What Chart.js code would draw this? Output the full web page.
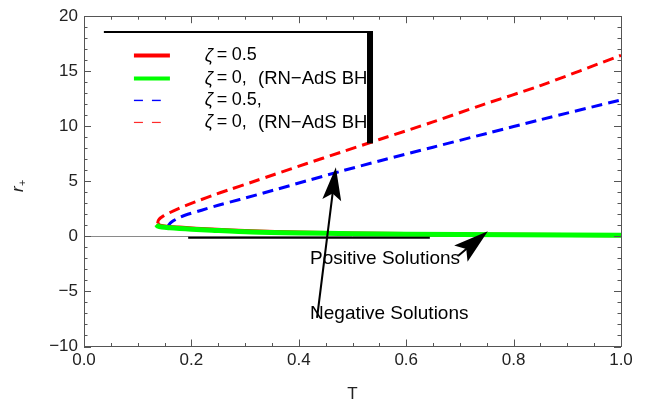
<!DOCTYPE html>
<html>
<head>
<meta charset="utf-8">
<script src="https://cdn.jsdelivr.net/npm/chart.js@4.4.1/dist/chart.umd.min.js"></script>
<style>
  html, body { margin: 0; padding: 0; background: #fff; }
</style>
</head>
<body>
<canvas id="chart" width="646" height="407"></canvas>
<script>
// ---- data ----
// zeta = 0 (RN-AdS), large branch, red dashed
const T_redDash = [0.137, 0.139, 0.148, 0.176, 0.207, 0.238, 0.269, 0.312, 0.353, 0.415, 0.477, 0.55, 0.65, 0.742, 0.85, 1.0];
const r_redDash = [1.17, 1.5, 1.86, 2.53, 3.13, 3.7, 4.22, 4.92, 5.6, 6.62, 7.62, 8.8, 10.4, 11.95, 13.7, 16.45];
// zeta = 0.5, large branch, blue dashed
const T_blueDash = [0.156, 0.158, 0.163, 0.175, 0.188, 0.219, 0.25, 0.29, 0.353, 0.415, 0.477, 0.55, 0.65, 0.75, 0.85, 1.0];
const r_blueDash = [0.86, 1.05, 1.31, 1.65, 1.92, 2.38, 2.83, 3.35, 4.2, 5.05, 5.9, 6.85, 8.1, 9.35, 10.6, 12.4];
// zeta = 0.5, small branch, red solid
const T_redSolid = [0.137, 0.14, 0.15, 0.178, 0.238, 0.312, 0.4, 0.5, 0.6, 0.8, 1.0];
const r_redSolid = [1.17, 1.0, 0.9, 0.8, 0.62, 0.46, 0.35, 0.27, 0.22, 0.15, 0.11];
// zeta = 0, small branch, green solid
const T_green = [0.135, 0.137, 0.145, 0.16, 0.178, 0.2, 0.238, 0.312, 0.4, 0.5, 0.6, 0.8, 1.0];
const r_green = [1.08, 0.95, 0.85, 0.78, 0.72, 0.66, 0.56, 0.4, 0.31, 0.25, 0.2, 0.14, 0.1];

const xTicks = [0, 0.2, 0.4, 0.6, 0.8, 1.0];
const yTicks = [-10, -5, 0, 5, 10, 15, 20];

const legendValue = ['0.5', '0,', '0.5,', '0,'];
const legendTail = ['', '(RN\u2212AdS BH)', '', '(RN\u2212AdS BH)'];
const note1 = 'Positive Solutions';
const note2 = 'Negative Solutions';

const FONT = '"Liberation Sans", Arial, sans-serif';

function pts(xs, ys) {
  return xs.map((v, i) => ({ x: v, y: ys[i] }));
}

function arrow(ctx, x1, y1, x2, y2, len, half) {
  const a = Math.atan2(y2 - y1, x2 - x1);
  const c = Math.cos(a), s = Math.sin(a);
  const bx = x2 - len * c, by = y2 - len * s;
  ctx.beginPath();
  ctx.moveTo(x1, y1);
  ctx.lineTo(x2 - 0.7 * len * c, y2 - 0.7 * len * s);
  ctx.stroke();
  ctx.beginPath();
  ctx.moveTo(x2, y2);
  ctx.lineTo(bx - half * s, by + half * c);
  ctx.lineTo(x2 - 0.8 * len * c, y2 - 0.8 * len * s);
  ctx.lineTo(bx + half * s, by - half * c);
  ctx.closePath();
  ctx.fill();
}

const framePlugin = {
  id: 'frame',
  beforeDatasetsDraw(chart) {
    const { ctx, chartArea: a, scales: { y } } = chart;
    ctx.save();
    ctx.strokeStyle = '#8a8a8a';
    ctx.lineWidth = 1;
    const y0 = Math.round(y.getPixelForValue(0)) + 0.5;
    ctx.beginPath();
    ctx.moveTo(a.left, y0);
    ctx.lineTo(a.right, y0);
    ctx.stroke();
    ctx.restore();
  },
  afterDatasetsDraw(chart) {
    const { ctx, chartArea: a, scales: { x, y } } = chart;
    const X = v => x.getPixelForValue(v);
    const Y = v => y.getPixelForValue(v);
    ctx.save();

    // frame + ticks (inside, on all four sides)
    ctx.strokeStyle = '#555';
    ctx.lineWidth = 1;
    ctx.strokeRect(Math.round(a.left) + 0.5, Math.round(a.top) + 0.5,
      Math.round(a.right - a.left), Math.round(a.bottom - a.top));
    ctx.beginPath();
    for (let i = 0; i <= 20; i++) {
      const px = Math.round(X(i * 0.05)) + 0.5;
      const L = i % 4 === 0 ? 7 : 3.5;
      ctx.moveTo(px, a.bottom); ctx.lineTo(px, a.bottom - L);
      ctx.moveTo(px, a.top); ctx.lineTo(px, a.top + L);
    }
    for (let v = -10; v <= 20; v++) {
      const py = Math.round(Y(v)) + 0.5;
      const L = v % 5 === 0 ? 7 : 3.5;
      ctx.moveTo(a.left, py); ctx.lineTo(a.left + L, py);
      ctx.moveTo(a.right, py); ctx.lineTo(a.right - L, py);
    }
    ctx.stroke();

    // black horizontal line under the lower branch
    ctx.strokeStyle = '#000';
    ctx.fillStyle = '#000';
    ctx.lineWidth = 2;
    ctx.beginPath();
    ctx.moveTo(X(0.194), Y(-0.12));
    ctx.lineTo(X(0.644), Y(-0.12));
    ctx.stroke();

    // legend box line
    ctx.beginPath();
    ctx.moveTo(X(0.037), Y(18.56));
    ctx.lineTo(X(0.538), Y(18.56));
    ctx.stroke();

    // legend samples
    const rows = [16.43, 14.34, 12.35, 10.35];
    const sx0 = X(0.093), tx = X(0.225), tx2 = X(0.324);
    const barX = X(0.5326) - 3;
    const sample = [
      { c: '#ff0000', w: 4, d: [], end: X(0.160) },
      { c: '#00ff00', w: 4, d: [], end: X(0.160) },
      { c: '#0000ff', w: 1.4, d: [9, 9], end: X(0.143) },
      { c: '#ff2a2a', w: 1.2, d: [9, 9], end: X(0.143) }
    ];
    sample.forEach((s, i) => {
      ctx.strokeStyle = s.c;
      ctx.lineWidth = s.w;
      ctx.setLineDash(s.d);
      ctx.beginPath();
      ctx.moveTo(sx0, Y(rows[i]));
      ctx.lineTo(s.end, Y(rows[i]));
      ctx.stroke();
    });
    ctx.setLineDash([]);
    ctx.fillStyle = '#000';
    ctx.textBaseline = 'middle';
    ctx.textAlign = 'left';
    legendValue.forEach((t, i) => {
      const yy = Y(rows[i]);
      ctx.font = 'italic 18px ' + FONT;
      ctx.fillText('\u03B6', tx, yy);
      ctx.font = '18px ' + FONT;
      ctx.fillText('=', tx + 12, yy);
      ctx.fillText(t, tx + 27, yy);
      if (legendTail[i]) {
        ctx.save();
        ctx.beginPath();
        ctx.rect(tx2 - 2, yy - 15, barX - tx2 + 2, 30);
        ctx.clip();
        ctx.font = '18.5px ' + FONT;
        ctx.fillText(legendTail[i], tx2, yy);
        ctx.restore();
      }
    });

    // thick vertical bar
    ctx.fillRect(barX, Y(18.56) - 1, 6, Y(8.45) - Y(18.56) + 1);

    // notes
    ctx.font = '19px ' + FONT;
    ctx.fillText(note1, X(0.421), Y(-2.0));
    ctx.fillText(note2, X(0.421), Y(-7.06));

    // arrows
    ctx.strokeStyle = '#000';
    ctx.lineWidth = 2;
    arrow(ctx, X(0.434), Y(-7.4), X(0.469), Y(6.27), 33, 9.5);
    arrow(ctx, X(0.697), Y(-1.75), X(0.752), Y(0.47), 35, 10.5);

    // axis labels
    ctx.textAlign = 'center';
    ctx.font = '17px ' + FONT;
    ctx.fillStyle = '#222';
    ctx.fillText('T', (a.left + a.right) / 2, 394);
    ctx.translate(18, 187);
    ctx.rotate(-Math.PI / 2);
    ctx.textAlign = 'left';
    ctx.font = 'italic 17px ' + FONT;
    ctx.fillText('r', -5, 0);
    ctx.font = '11px ' + FONT;
    ctx.fillText('+', 1, 5);
    ctx.restore();
  }
};

const ds = (label, data, color, width, dash) => ({
  label: label,
  data: data,
  showLine: true,
  borderColor: color,
  backgroundColor: color,
  borderWidth: width,
  borderDash: dash,
  pointRadius: 0,
  tension: 0.3,
  fill: false
});

// first dataset is painted last (on top)
new Chart(document.getElementById('chart').getContext('2d'), {
  type: 'scatter',
  data: {
    datasets: [
      ds('zeta=0 small', pts(T_green, r_green), '#00ff00', 5, []),
      ds('zeta=0.5 small', pts(T_redSolid, r_redSolid), '#ff0000', 4, []),
      ds('zeta=0.5 large', pts(T_blueDash, r_blueDash), '#0000ff', 3, [11, 6]),
      ds('zeta=0 large', pts(T_redDash, r_redDash), '#ff0000', 3, [11, 6])
    ]
  },
  options: {
    responsive: false,
    animation: false,
    devicePixelRatio: 1,
    layout: { padding: { top: 15.5, right: 25, left: 0, bottom: 0 } },
    plugins: {
      legend: { display: false },
      tooltip: { enabled: false }
    },
    scales: {
      x: {
        type: 'linear',
        min: 0, max: 1,
        grid: { display: false, drawTicks: false },
        border: { display: false },
        afterFit: s => { s.height = 60.5; },
        afterBuildTicks: s => { s.ticks = xTicks.map(v => ({ value: v })); },
        ticks: {
          padding: 4,
          maxRotation: 0,
          color: '#222',
          font: { family: FONT, size: 17 },
          callback: v => v.toFixed(1)
        }
      },
      y: {
        type: 'linear',
        min: -10, max: 20,
        grid: { display: false, drawTicks: false },
        border: { display: false },
        afterFit: s => { s.width = 84; },
        afterBuildTicks: s => { s.ticks = yTicks.map(v => ({ value: v })); },
        ticks: {
          padding: 6,
          color: '#222',
          font: { family: FONT, size: 17 },
          callback: v => (v < 0 ? '\u2212' + Math.abs(v) : String(v))
        }
      }
    }
  },
  plugins: [framePlugin]
});
</script>
</body>
</html>
